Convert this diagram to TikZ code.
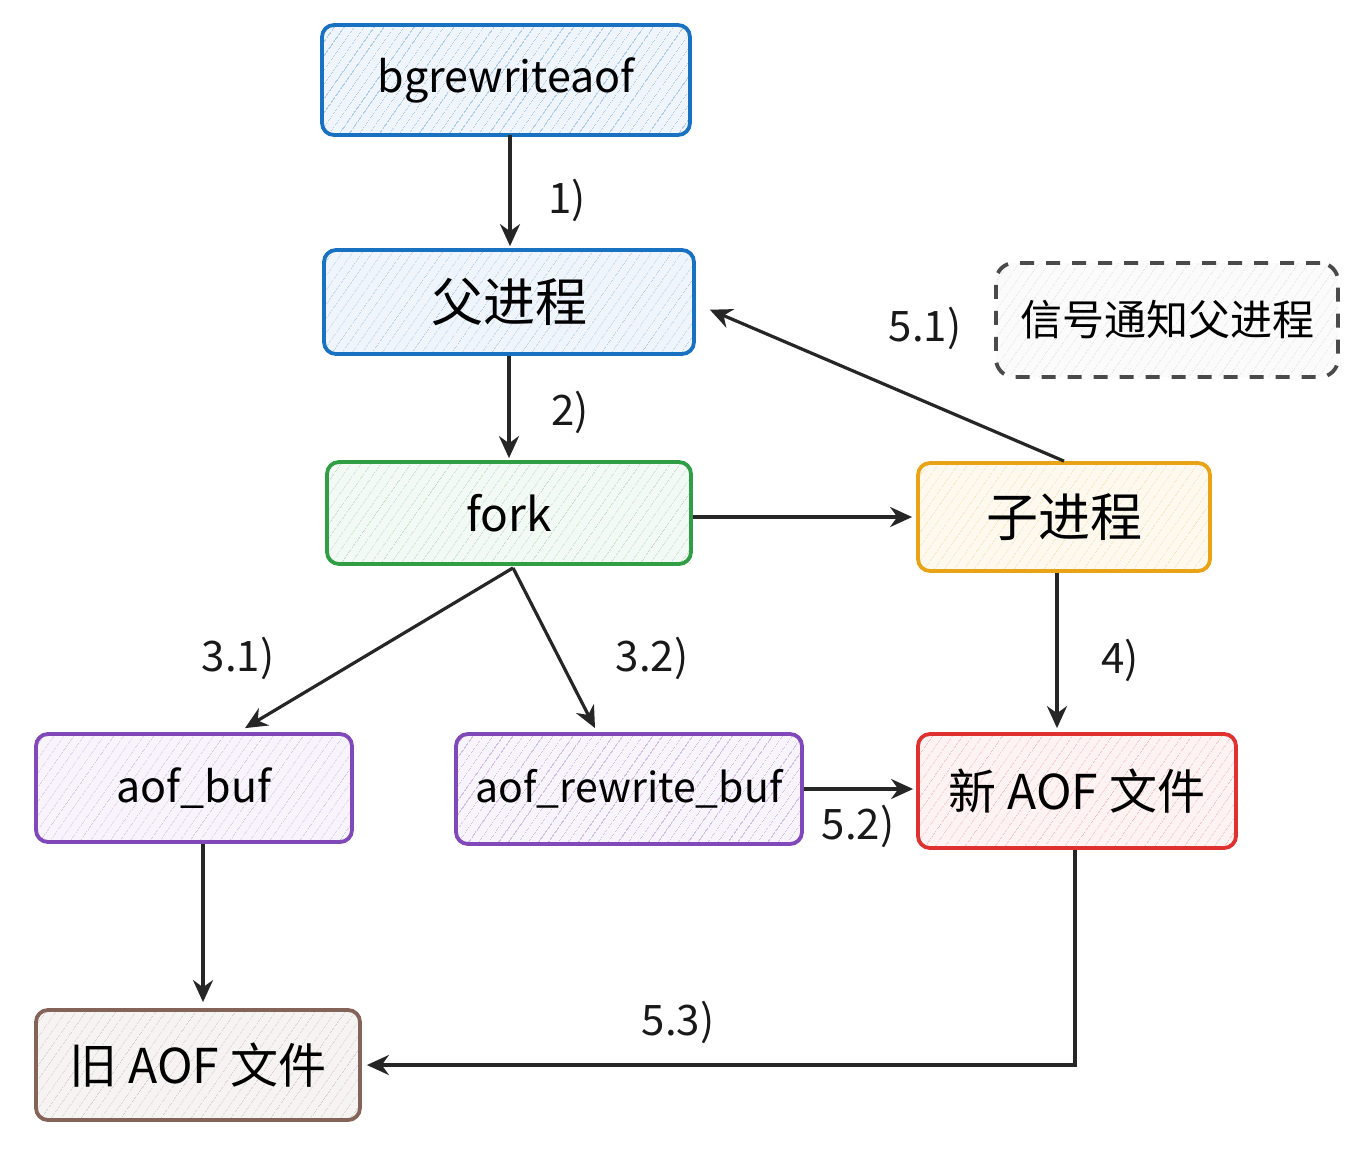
\documentclass[tikz,border=0pt]{standalone}
\usepackage{fontspec}
\setmainfont{Noto Sans CJK SC}
\usetikzlibrary{arrows.meta,calc,patterns.meta}
\definecolor{cblue}{HTML}{1971C2}
\definecolor{cgreen}{HTML}{2F9E44}
\definecolor{cyellow}{HTML}{E8A317}
\definecolor{cpurple}{HTML}{8048B8}
\definecolor{cred}{HTML}{E03131}
\definecolor{cbrown}{HTML}{846358}
\definecolor{cgray}{HTML}{4A4A4A}
\begin{document}
\begin{tikzpicture}[x=0.5pt,y=-0.5pt,
  box/.style n args={2}{draw=#1, line width=1.9pt, rounded corners=6pt,
    preaction={fill=#2},
    pattern={Lines[angle=55,distance=4pt,line width=0.35pt]}, pattern color=#1!35,
    inner sep=0pt, font=\fontsize{21.5}{24}\selectfont},
  lbl/.style={font=\fontsize{21}{24}\selectfont, text=black!90},
  conn/.style={draw=black!85, line width=1.6pt, -{Stealth[length=11pt,width=10pt]}},
]
\useasboundingbox (0,0) rectangle (1359,1158);
\fill[white] (0,0) rectangle (1359,1158);

\node[box={cblue}{cblue!7}, minimum width=184pt, minimum height=55pt] (bg) at (506,80) {bgrewriteaof};
\node[box={cblue}{cblue!7}, minimum width=185pt, minimum height=52pt, font=\fontsize{26}{29}\selectfont] (par) at (509,302) {父进程};
\node[box={cgreen}{cgreen!6}, minimum width=182pt, minimum height=51pt, font=\fontsize{23}{26}\selectfont] (fork) at (509,513) {fork};
\node[box={cyellow}{cyellow!7}, minimum width=146pt, minimum height=54pt, font=\fontsize{26}{29}\selectfont] (child) at (1064,517) {子进程};
\node[draw=cgray, line width=1.9pt, dashed, dash pattern=on 7pt off 6pt, rounded corners=9pt,
  preaction={fill=gray!3}, pattern={Lines[angle=55,distance=4pt,line width=0.3pt]}, pattern color=gray!20,
  minimum width=171pt, minimum height=57pt, font=\fontsize{21}{24}\selectfont] (note) at (1167,320) {信号通知父进程};
\node[box={cpurple}{cpurple!6}, minimum width=158pt, minimum height=54pt] (abuf) at (194,788) {aof\_buf};
\node[box={cpurple}{cpurple!6}, minimum width=173pt, minimum height=55pt, font=\fontsize{20.5}{23}\selectfont] (rbuf) at (629,789) {aof\_rewrite\_buf};
\node[box={cred}{cred!6}, minimum width=159pt, minimum height=57pt, font=\fontsize{24}{27}\selectfont] (new) at (1077,791) {新 AOF 文件};
\node[box={cbrown}{cbrown!7}, minimum width=162pt, minimum height=55pt, font=\fontsize{24}{27}\selectfont] (old) at (198,1065) {旧 AOF 文件};

\draw[conn] ($(bg.south)+(4,0)$) -- ($(bg.south |- par.north)+(4,-2)$);
\draw[conn] (par.south) -- ($(par.south |- fork.north)+(0,-2)$);
\draw[conn] ($(fork.east)+(0,4)$) -- ($(fork.east -| child.west)+(-4,4)$);
\draw[conn, shorten >=6pt] (child.north) -- ($(par.east)+(3,3)$);
\draw[conn] ($(fork.south)+(4,2)$) -- ($(abuf.north)+(51,-4)$);
\draw[conn] ($(fork.south)+(4,2)$) -- ($(rbuf.north)+(-34,-4)$);
\draw[conn] ($(child.south)+(-7,0)$) -- ($(child.south |- new.north)+(-7,-4)$);
\draw[conn] (rbuf.east) -- ($(rbuf.east -| new.west)+(-3,0)$);
\draw[conn] ($(abuf.south)+(9,0)$) -- ($(abuf.south |- old.north)+(9,-6)$);
\draw[conn] ($(new.south)+(-2,0)$) |- ($(old.east)+(5,0)$);

\node[lbl] (l1) at (567,200) {1)};
\node[lbl] (l2) at (570,412) {2)};
\node[lbl] (l51) at (925,328) {5.1)};
\node[lbl] (l31) at (238,658) {3.1)};
\node[lbl] (l32) at (652,658) {3.2)};
\node[lbl] (l4) at (1120,660) {4)};
\node[lbl] (l52) at (858,826) {5.2)};
\node[lbl] (l53) at (678,1022) {5.3)};
\end{tikzpicture}
\end{document}
